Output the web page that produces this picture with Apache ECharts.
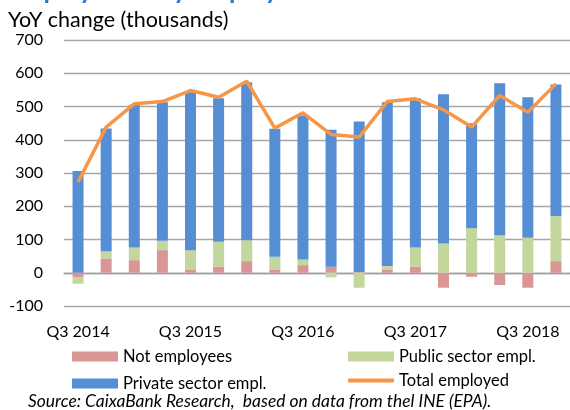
<!DOCTYPE html>
<html>
<head>
<meta charset="utf-8">
<script src="https://cdn.jsdelivr.net/npm/echarts@6/dist/echarts.min.js"></script>
<style>
  html, body { margin: 0; padding: 0; background: #fff; }
  #chart { width: 570px; height: 410px; }
</style>
</head>
<body>
<div id="chart"></div>
<script>
const quarters = ['Q3 2014', 'Q4 2014', 'Q1 2015', 'Q2 2015', 'Q3 2015', 'Q4 2015', 'Q1 2016', 'Q2 2016', 'Q3 2016',
  'Q4 2016', 'Q1 2017', 'Q2 2017', 'Q3 2017', 'Q4 2017', 'Q1 2018', 'Q2 2018', 'Q3 2018', 'Q4 2018']
const notEmployees = [-13, 43, 38, 68, 10, 18, 35, 10, 23, 18, 2, 10, 18, -45, -12, -37, -45, 35]
const publicSector = [-20, 22, 38, 28, 58, 75, 63, 38, 17, -14, -45, 10, 58, 88, 134, 113, 105, 136]
const privateSector = [306, 369, 429, 417, 475, 432, 475, 385, 433, 412, 453, 493, 449, 449, 316, 457, 423, 395]
const totalEmployed = [273, 438, 508, 515, 548, 528, 576, 435, 481, 416, 408, 515, 523, 490, 438, 533, 483, 568]

const font = 'Lato'
const chart = echarts.init(document.getElementById('chart'), null, { renderer: 'canvas' })

const barSeries = (name, data, color) => ({
  name: name,
  type: 'bar',
  stack: 'total',
  barWidth: 11,
  data: data,
  itemStyle: { color: color },
  animation: false
})

const legendText = { fontFamily: font, fontSize: 16.5, color: '#000', lineHeight: 14 }

const option = {
  backgroundColor: '#fff',
  title: [
    {
      text: 'Employment by employer',
      left: 2,
      top: -27,
      textStyle: { color: '#1f7bd0', fontFamily: font, fontSize: 26, fontWeight: 'bold' }
    },
    {
      text: 'YoY change (thousands)',
      left: 8,
      top: 9,
      padding: 0,
      textStyle: { color: '#000', fontFamily: font, fontSize: 21.5, fontWeight: 'normal' }
    },
    {
      text: 'Source: CaixaBank Research,  based on data from thel INE (EPA).',
      left: 28,
      top: 393,
      padding: 0,
      textStyle: { color: '#000', fontFamily: font, fontSize: 17.4, fontStyle: 'italic', fontWeight: 'normal' }
    }
  ],
  grid: { left: 64, right: -4, top: 40, bottom: 104 },
  legend: [
    {
      data: ['Not employees', 'Private sector empl.'],
      orient: 'vertical',
      left: 72,
      top: 348,
      itemWidth: 46,
      itemHeight: 10,
      itemGap: 10,
      icon: 'rect',
      padding: 0,
      textStyle: legendText
    },
    {
      data: ['Public sector empl.'],
      left: 348,
      top: 348,
      itemWidth: 46,
      itemHeight: 10,
      icon: 'rect',
      padding: 0,
      textStyle: legendText
    },
    {
      data: ['Total employed'],
      left: 348,
      top: 372,
      itemWidth: 46,
      itemHeight: 4,
      icon: 'roundRect',
      padding: 0,
      textStyle: legendText
    }
  ],
  xAxis: {
    type: 'category',
    data: quarters,
    boundaryGap: true,
    axisLine: { onZero: true, lineStyle: { color: '#a0a0a0', width: 1.3 } },
    axisTick: { interval: 3, length: 5, lineStyle: { color: '#a0a0a0' } },
    axisLabel: {
      interval: 3,
      color: '#000',
      fontFamily: font,
      fontSize: 16,
      margin: 18
    },
    splitLine: { show: false }
  },
  yAxis: {
    type: 'value',
    min: -100,
    max: 700,
    interval: 100,
    axisLine: { show: false },
    axisTick: { show: false },
    axisLabel: { color: '#000', fontFamily: font, fontSize: 16, margin: 21 },
    splitLine: { lineStyle: { color: '#a6a6a6', width: 1.3 } }
  },
  series: [
    barSeries('Not employees', notEmployees, '#d99694'),
    barSeries('Public sector empl.', publicSector, '#c3d69b'),
    barSeries('Private sector empl.', privateSector, '#558ed5'),
    {
      name: 'Total employed',
      type: 'line',
      data: totalEmployed,
      symbol: 'none',
      z: 5,
      lineStyle: { color: '#f79646', width: 3.5 },
      itemStyle: { color: '#f79646' },
      animation: false
    }
  ]
}

chart.setOption(option)
</script>
</body>
</html>
